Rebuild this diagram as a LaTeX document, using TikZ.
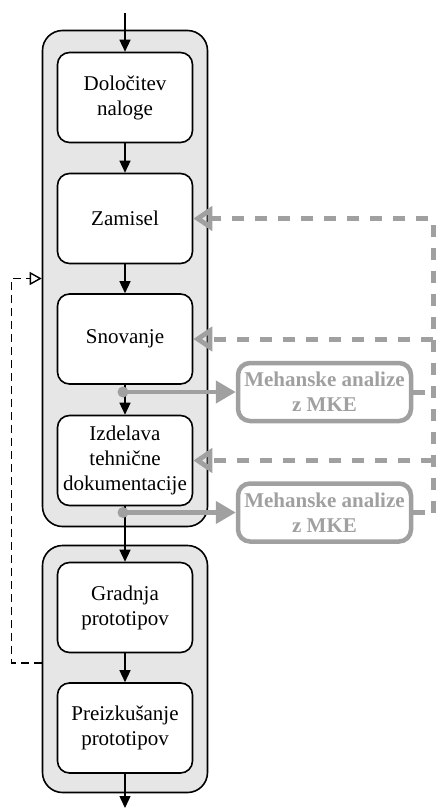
\documentclass[tikz,border=0pt]{standalone}
\usepackage{fontspec}
\setmainfont{Liberation Serif}
\usetikzlibrary{arrows.meta}
\definecolor{fgray}{RGB}{160,160,160}
\definecolor{bggray}{RGB}{230,230,230}
\begin{document}
\begin{tikzpicture}[x=1pt,y=-1pt,
  outer/.style={draw=black, line width=1.6pt, fill=bggray, rounded corners=20pt, minimum width=165pt, inner sep=0pt},
  stepbox/.style={draw, line width=1.6pt, fill=white, rounded corners=12pt, minimum width=135pt, minimum height=90pt, inner sep=0pt, align=center, font=\fontsize{21}{25}\selectfont},
  mke/.style={draw=fgray, fill=white, line width=4.5pt, rounded corners=12pt, minimum width=173pt, minimum height=58pt, inner sep=0pt, align=center, font=\fontsize{21}{25}\selectfont\bfseries, text=fgray},
  flow/.style={line width=1.4pt, -{Triangle[length=12pt,width=11pt]}},
  fb/.style={line width=1.4pt, dash pattern=on 8pt off 5pt, -{Triangle[open,length=12pt,width=13pt]}},
  garrow/.style={draw=fgray, line width=4.5pt, -{Triangle[length=20pt,width=22pt]}},
  gdash/.style={draw=fgray, line width=5pt, dash pattern=on 12pt off 11pt},
  gback/.style={gdash, -{Triangle[open,length=19pt,width=24pt]}}
]
\useasboundingbox (0,0) rectangle (436,809);
\node[outer, minimum height=496pt] (o1) at (125,278.5) {};
\node[outer, minimum height=247pt] (o2) at (125,669) {};
\node[stepbox] (b1) at (125,97.5) {Določitev\\naloge};
\node[stepbox] (b2) at (125,218.5) {Zamisel};
\node[stepbox] (b3) at (125,339) {Snovanje};
\node[stepbox] (b4) at (125,460.5) {Izdelava\\tehnične\\dokumentacije};
\node[stepbox] (b5) at (125,607.5) {Gradnja\\prototipov};
\node[stepbox] (b6) at (125,728) {Preizkušanje\\prototipov};
\node[mke] (m1) at (324.5,392) {Mehanske analize\\z MKE};
\node[mke] (m2) at (324.5,512.5) {Mehanske analize\\z MKE};
\coordinate (top) at (125,13);
\coordinate (bot) at (125,808);
\draw[flow] (top) -- (b1);
\draw[flow] (b1) -- (b2);
\draw[flow] (b2) -- (b3);
\draw[flow] (b3) -- (b4);
\draw[flow] (b4) -- (b5);
\draw[flow] (b5) -- (b6);
\draw[flow] (b6) -- (bot);
\draw[fb] ([yshift=6pt]o2.west) -- ++(-30,0) |- (o1.west);
\coordinate (d1) at (b3.south |- m1.west);
\coordinate (d2) at (b4.south |- m2.west);
\fill[fgray] ([xshift=-2pt]d1) circle (5.5pt);
\fill[fgray] ([xshift=-2pt]d2) circle (5.5pt);
\draw[garrow] (d1) -- (m1);
\draw[garrow] (d2) -- (m2);
\draw[gdash] (m1.east) -- ++(20,0);
\draw[gdash] (m2.east) -- ++(20,0) coordinate (cr);
\draw[gback] (cr) |- (b2.east);
\draw[gback] (cr |- b3.east) -- (b3.east);
\draw[gback] (cr |- b4.east) -- (b4.east);
\end{tikzpicture}
\end{document}
